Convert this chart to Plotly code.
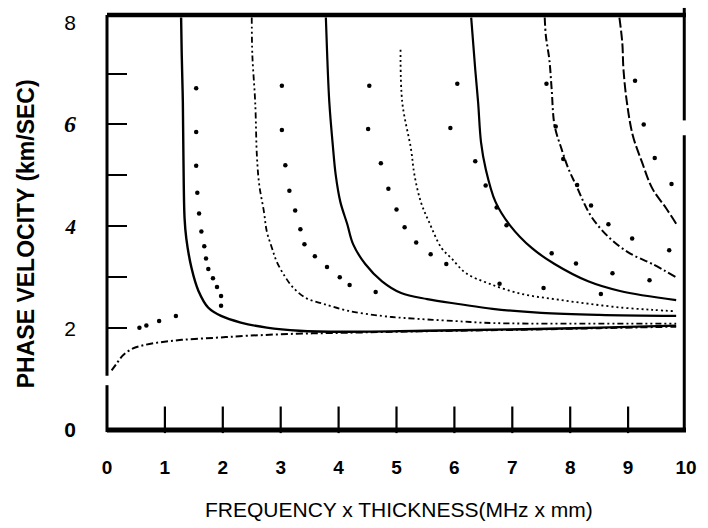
import plotly.graph_objects as go

# ---------------- data ----------------
a0_f = [0.08, 0.17, 0.27, 0.44, 0.61, 0.90, 1.29, 1.86, 2.42, 3.27, 4.12, 5.5, 7.2, 8.5, 9.83]
a0_v = [1.17, 1.31, 1.46, 1.60, 1.66, 1.72, 1.77, 1.81, 1.85, 1.89, 1.91, 1.94, 1.97, 2.00, 2.03]

s0_f = [0.56, 0.68, 0.90, 1.19]
s0_v = [2.01, 2.05, 2.14, 2.24]

m1_f = [1.28, 1.29, 1.31, 1.32, 1.34, 1.37, 1.46, 1.58, 1.75, 1.97, 2.31, 2.76, 3.32, 4.12, 5.5, 7.2, 8.5, 9.83]
m1_v = [8.10, 7.41, 6.43, 5.36, 4.15, 3.76, 3.18, 2.73, 2.40, 2.24, 2.11, 2.01, 1.95, 1.93, 1.95, 1.98, 2.01, 2.05]

d1_f = [1.54, 1.54, 1.54, 1.56, 1.59, 1.63, 1.68, 1.71, 1.75, 1.83, 1.90, 1.97, 1.97]
d1_v = [6.71, 5.85, 5.19, 4.66, 4.25, 3.90, 3.61, 3.37, 3.16, 2.98, 2.81, 2.63, 2.44]

m2_f = [2.50, 2.51, 2.56, 2.59, 2.63, 2.71, 2.76, 2.85, 2.93, 3.07, 3.22, 3.44, 3.73, 4.17, 4.75, 5.14, 6.0, 6.66, 8.0, 9.83]
m2_v = [8.10, 7.37, 6.43, 5.36, 4.81, 4.29, 3.90, 3.57, 3.31, 3.02, 2.79, 2.59, 2.48, 2.34, 2.24, 2.20, 2.14, 2.10, 2.09, 2.09]

d2_f = [3.02, 3.02, 3.08, 3.15, 3.25, 3.34, 3.41, 3.59, 3.80, 4.02, 4.19, 4.64]
d2_v = [6.76, 5.89, 5.20, 4.70, 4.31, 3.94, 3.65, 3.41, 3.20, 3.00, 2.85, 2.71]

m3_f = [3.78, 3.80, 3.84, 3.90, 3.95, 4.03, 4.15, 4.25, 4.46, 4.75, 5.08, 5.53, 6.10, 6.66, 7.5, 8.5, 9.83]
m3_v = [8.10, 7.45, 6.43, 5.59, 5.01, 4.48, 4.04, 3.65, 3.26, 2.92, 2.69, 2.57, 2.47, 2.38, 2.30, 2.26, 2.24]

d3_f = [4.53, 4.51, 4.73, 4.86, 5.00, 5.14, 5.34, 5.59, 5.86, 6.78, 7.54, 8.53]
d3_v = [6.76, 5.91, 5.24, 4.74, 4.33, 3.98, 3.68, 3.45, 3.26, 2.87, 2.79, 2.67]

m4_f = [5.07, 5.10, 5.25, 5.31, 5.42, 5.56, 5.78, 5.95, 6.20, 6.61, 7.17, 7.73, 8.31, 8.92, 9.42, 9.83]
m4_v = [7.47, 6.43, 5.52, 5.01, 4.48, 4.09, 3.57, 3.37, 3.08, 2.87, 2.67, 2.57, 2.48, 2.40, 2.36, 2.33]

d4_f = [6.05, 5.93, 6.36, 6.54, 6.73, 6.90, 7.68, 8.10, 8.73, 9.37]
d4_v = [6.80, 5.93, 5.28, 4.80, 4.37, 4.02, 3.47, 3.27, 3.08, 2.94]

m5_f = [6.29, 6.36, 6.41, 6.46, 6.54, 6.71, 6.96, 7.34, 7.73, 8.31, 8.86, 9.83]
m5_v = [8.10, 7.08, 6.43, 5.65, 5.13, 4.48, 4.02, 3.57, 3.26, 2.92, 2.73, 2.55]

m6_f = [7.56, 7.58, 7.64, 7.68, 7.73, 7.85, 7.97, 8.10, 8.36, 8.69, 9.03, 9.42, 9.83]
m6_v = [8.10, 7.74, 7.27, 6.69, 5.98, 5.52, 5.13, 4.81, 4.20, 3.76, 3.47, 3.26, 3.00]

d5_f = [7.59, 7.75, 7.88, 8.12, 8.36, 8.66, 9.07, 9.71]
d5_v = [6.80, 5.96, 5.32, 4.81, 4.41, 4.04, 3.76, 3.53]

d6_f = [9.12, 9.27, 9.46, 9.75]
d6_v = [6.86, 6.00, 5.34, 4.83]

m7_f = [8.85, 8.90, 8.92, 8.98, 9.08, 9.24, 9.42, 9.66, 9.83]
m7_v = [8.10, 7.60, 7.08, 6.43, 5.79, 5.26, 4.74, 4.35, 4.05]

x_tickvals = [0, 1, 2, 3, 4, 5, 6, 7, 8, 9, 10]
x_ticktext = ["0", "1", "2", "3", "4", "5", "6", "7", "8", "9", "10"]
x_minor_ticks = [1, 2, 3, 4, 5, 6, 7, 8, 9]
x_tick_mid = [0.2] * len(x_minor_ticks)   # vertical centre of each tick stub
y_labelvals = [0, 2, 4, 6, 8]
y_labeltext = ["<b>0</b>", "2",
               "<span style=\"font-family:'Liberation Serif'\"><b><i>4</i></b></span>",
               "<span style=\"font-family:'Liberation Serif';font-size:24px\"><b><i>6</i></b></span>",
               "8"]
y_minor_ticks = [2, 3, 4, 5, 6, 7]

x_title = "FREQUENCY x THICKNESS(MHz x mm)"
y_title = "PHASE VELOCITY (km/SEC)"

# ---------------- figure ----------------
fig = go.Figure()


def add_line(f, v, dash, width):
    fig.add_trace(go.Scatter(x=f, y=v, mode="lines", hoverinfo="skip",
                             line=dict(color="black", width=width, dash=dash,
                                       shape="spline", smoothing=1.0)))


def add_dots(f, v, size):
    fig.add_trace(go.Scatter(x=f, y=v, mode="markers", hoverinfo="skip",
                             marker=dict(color="black", size=size)))


add_line(a0_f, a0_v, "7px,3px,2px,3px", 2)
add_line(m1_f, m1_v, "solid", 2.4)
add_line(m2_f, m2_v, "6px,3px,2px,3px,2px,3px", 1.8)
add_line(m3_f, m3_v, "solid", 2.2)
add_line(m4_f, m4_v, "2px,3px", 1.8)
add_line(m5_f, m5_v, "solid", 2.2)
add_line(m6_f, m6_v, "8px,3px,2px,3px", 2)
add_line(m7_f, m7_v, "10px,3px", 2)

for f, v in [(s0_f, s0_v), (d1_f, d1_v), (d2_f, d2_v), (d3_f, d3_v),
             (d4_f, d4_v), (d5_f, d5_v), (d6_f, d6_v)]:
    add_dots(f, v, 4.5)

# x-axis tick stubs as vertical-line markers
fig.add_trace(go.Scatter(x=x_minor_ticks, y=x_tick_mid, mode="markers", hoverinfo="skip",
                         cliponaxis=False,
                         marker=dict(symbol="line-ns", size=19, color="black",
                                     line=dict(color="black", width=2.2))))

fig.update_layout(
    width=708, height=528,
    margin=dict(l=107, r=11, t=12, b=98),
    paper_bgcolor="white", plot_bgcolor="white",
    showlegend=False,
    font=dict(family="Liberation Sans, Arial, sans-serif", color="black"),
    xaxis=dict(range=[0, 10], showgrid=False, zeroline=False, showline=False,
               tickmode="array", tickvals=x_tickvals, ticktext=x_ticktext,
               ticks="", ticklabelstandoff=24,
               tickfont=dict(size=19, family="Liberation Sans", weight="bold")),
    yaxis=dict(range=[0, 8.15], showgrid=False, zeroline=False, showline=False,
               tickmode="array", tickvals=y_labelvals, ticktext=y_labeltext,
               ticks="", ticklabelstandoff=30,
               tickfont=dict(size=21, family="Liberation Sans"),
               minor=dict(tickmode="array", tickvals=y_minor_ticks, ticks="inside",
                          ticklen=20, tickwidth=2, tickcolor="black", showgrid=False)),
)

# frame (scanned-style axes with small gaps)
frame = [
    dict(x0=0, x1=1, y0=1, y1=1, w=4.5),          # top
    dict(x0=0, x1=0, y0=1, y1=0.131, w=3),        # left upper
    dict(x0=0, x1=0, y0=0.108, y1=-0.005, w=3),   # left lower
    dict(x0=0, x1=1, y0=0, y1=0, w=5),            # bottom
    dict(x0=0.997, x1=0.997, y0=1.017, y1=0.746, w=3),  # right upper
    dict(x0=0.997, x1=0.997, y0=0.710, y1=0, w=3),      # right lower
]
for s in frame:
    fig.add_shape(type="line", xref="paper", yref="paper",
                  x0=s["x0"], x1=s["x1"], y0=s["y0"], y1=s["y1"],
                  line=dict(color="black", width=s["w"]))

fig.add_annotation(text=x_title, xref="paper", yref="paper", x=0.505, y=-0.192,
                   xanchor="center", yanchor="middle", showarrow=False,
                   font=dict(size=21, family="Liberation Sans"))
fig.add_annotation(text="<b>" + y_title + "</b>", xref="paper", yref="paper",
                   x=-0.14, y=0.474, textangle=-90, xanchor="center", yanchor="middle",
                   showarrow=False, font=dict(size=23, family="Liberation Sans"))

fig.write_html("out.html")
